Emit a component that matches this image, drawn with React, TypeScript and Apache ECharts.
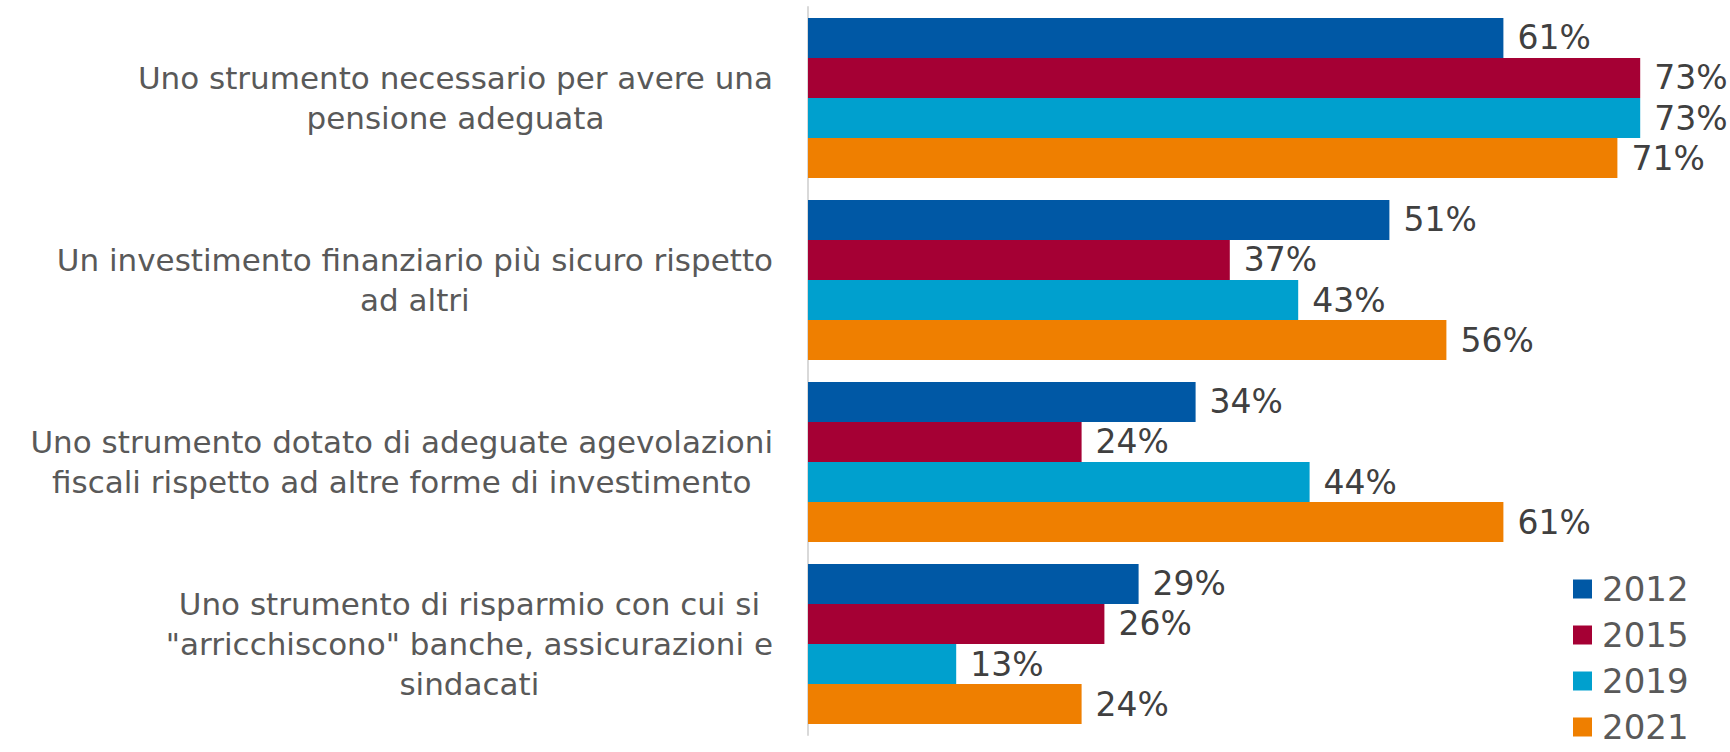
import React, { useEffect, useRef } from "react";
import * as echarts from "echarts";

const categories: string[] = [
  "Uno strumento necessario per avere una\npensione adeguata",
  "Un investimento finanziario più sicuro rispetto\nad altri",
  "Uno strumento dotato di adeguate agevolazioni\nfiscali rispetto ad altre forme di investimento",
  "Uno strumento di risparmio con cui si\n\"arricchiscono\" banche, assicurazioni e\nsindacati",
];

const seriesNames: string[] = ["2012", "2015", "2019", "2021"];
const values2012: number[] = [61, 51, 34, 29];
const values2015: number[] = [73, 37, 24, 26];
const values2019: number[] = [73, 43, 44, 13];
const values2021: number[] = [71, 56, 61, 24];
const colors: string[] = ["#0058A5", "#A50034", "#00A0CE", "#EF7F00"];

export default function App() {
  const ref = useRef<HTMLDivElement>(null);

  useEffect(() => {
    if (!ref.current) return;
    const chart = echarts.init(ref.current, null, { renderer: "svg" });
    const allValues = [values2012, values2015, values2019, values2021];
    const font = "DejaVu Sans";
    chart.setOption({
      animation: false,
      grid: { left: 808, top: 7, width: 912, height: 728, containLabel: false },
      legend: {
        orient: "vertical",
        left: 1573,
        top: 572,
        height: 300,
        padding: 0,
        itemWidth: 19,
        itemHeight: 19,
        itemGap: 12,
        icon: "rect",
        data: seriesNames,
        textStyle: {
          fontFamily: font,
          fontSize: 34,
          lineHeight: 34,
          color: "#595959",
          padding: [0, 0, 0, 5],
        },
      },
      xAxis: {
        type: "value",
        min: 0,
        max: 80,
        show: false,
        splitLine: { show: false },
      },
      yAxis: {
        type: "category",
        data: categories,
        inverse: true,
        axisTick: { show: false },
        axisLine: { show: true, lineStyle: { color: "#D9D9D9", width: 2 } },
        axisLabel: {
          margin: 35,
          fontFamily: font,
          fontSize: 31,
          color: "#595959",
          lineHeight: 40,
          formatter: (v: string) =>
            v
              .split("\n")
              .map((l) => "{c|" + l + "}")
              .join("\n"),
          rich: {
            c: {
              align: "center",
              fontFamily: font,
              fontSize: 31,
              color: "#595959",
              lineHeight: 40,
            },
          },
        },
      },
      series: seriesNames.map((name, i) => ({
        name,
        type: "bar",
        data: allValues[i],
        barGap: "0%",
        barCategoryGap: "12%",
        itemStyle: { color: colors[i] },
        label: {
          show: true,
          position: "right",
          distance: 14,
          formatter: "{c}%",
          fontFamily: font,
          fontSize: 33,
          color: "#404040",
        },
      })),
    });
    return () => chart.dispose();
  }, []);

  return (
    <div
      ref={ref}
      style={{ position: "absolute", left: 0, top: 0, width: 1730, height: 752 }}
    />
  );
}
